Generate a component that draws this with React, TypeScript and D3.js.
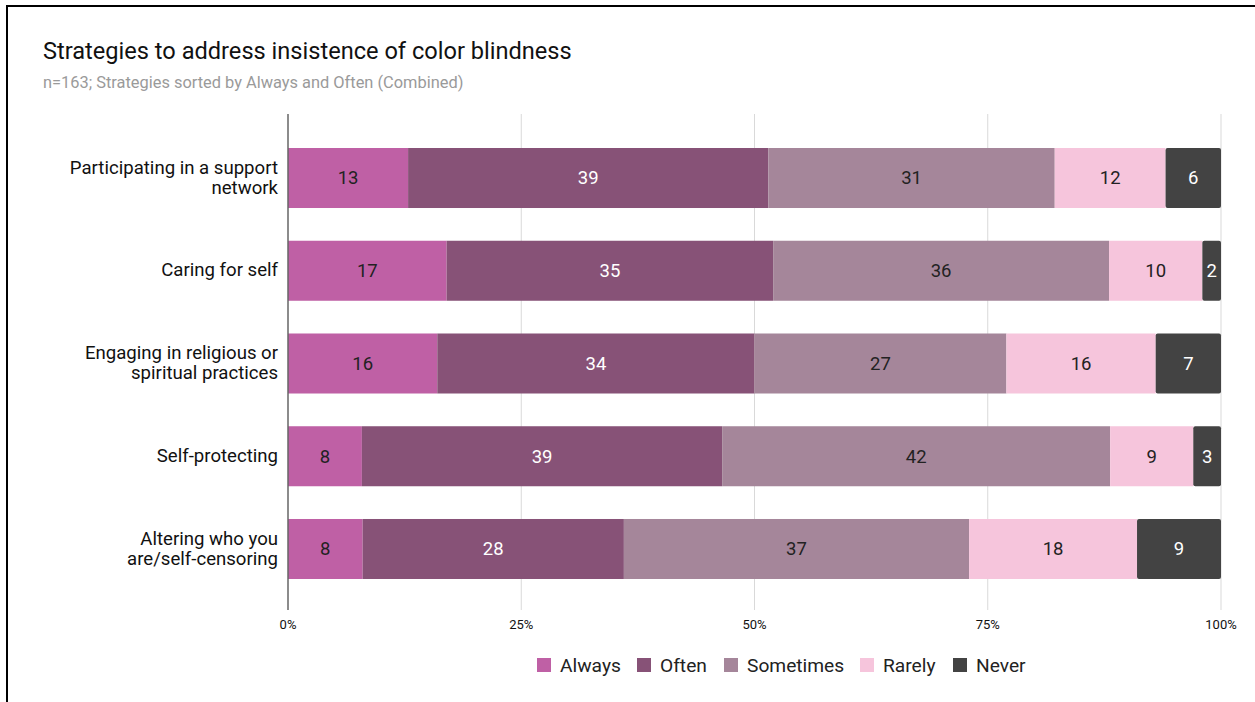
import React from "react";
import * as d3 from "d3";

const categories = [
  ["Participating in a support", "network"],
  ["Caring for self"],
  ["Engaging in religious or", "spiritual practices"],
  ["Self-protecting"],
  ["Altering who you", "are/self-censoring"],
];
const seriesNames = ["Always", "Often", "Sometimes", "Rarely", "Never"];
const always = [13, 17, 16, 8, 8];
const often = [39, 35, 34, 39, 28];
const sometimes = [31, 36, 27, 42, 37];
const rarely = [12, 10, 16, 9, 18];
const never = [6, 2, 7, 3, 9];
const tickValues = [0, 0.25, 0.5, 0.75, 1];
const tickLabels = ["0%", "25%", "50%", "75%", "100%"];

const colors = ["#bf60a5", "#875277", "#a5869a", "#f6c5dc", "#434343"];
const labelColors = ["#222", "#fff", "#222", "#222", "#fff"];

export default function App() {
  const W = 1255, H = 702;
  const x = d3.scaleLinear().domain([0, 1]).range([288, 1221]);
  const y = d3.scaleBand<number>().domain(d3.range(categories.length)).range([148, 579]).paddingInner(0.353).paddingOuter(0);
  const seriesData = [always, often, sometimes, rarely, never];
  const rows = categories.map((_, i) => {
    const obj: any = { i };
    seriesNames.forEach((s, k) => (obj[s] = seriesData[k][i]));
    return obj;
  });
  const stack = d3.stack<any>().keys(seriesNames).offset(d3.stackOffsetExpand);
  const stacked = stack(rows);
  const font = "Roboto, sans-serif";
  const legendX = [537, 637, 724, 860, 953];

  return (
    <svg width={W} height={H} style={{ position: "absolute", left: 0, top: 0, background: "#fff" }} fontFamily={font}>
      <rect x={0} y={0} width={W} height={H} fill="#fff" />
      <line x1={7} y1={5} x2={7} y2={H} stroke="#000" strokeWidth={2} />
      <line x1={6} y1={6} x2={W} y2={6} stroke="#000" strokeWidth={2} />
      <text x={43} y={59} fontSize={23.6} fill="#111">Strategies to address insistence of color blindness</text>
      <text x={43} y={88} fontSize={16.4} fill="#9a9a9a">n=163; Strategies sorted by Always and Often (Combined)</text>
      {tickValues.slice(1).map((t) => (
        <line key={t} x1={x(t)} x2={x(t)} y1={114} y2={610} stroke="#d9d9d9" strokeWidth={1} />
      ))}
      {stacked.map((s, k) => (
        <g key={s.key}>
          {s.map((d, i) => (
            <g key={i}>
              <rect x={x(d[0])} y={y(i)!} width={x(d[1]) - x(d[0])} height={y.bandwidth()} fill={colors[k]} rx={k === 4 ? 2 : 0} />
              <text x={(x(d[0]) + x(d[1])) / 2} y={y(i)! + y.bandwidth() / 2} dy="0.35em" textAnchor="middle" fontSize={18.5} fill={labelColors[k]}>
                {seriesData[k][i]}
              </text>
            </g>
          ))}
        </g>
      ))}
      <line x1={288} x2={288} y1={114} y2={610} stroke="#666" strokeWidth={1.5} />
      {categories.map((lines, i) => {
        const cy = y(i)! + y.bandwidth() / 2 - 1;
        const lh = 20;
        const start = cy - ((lines.length - 1) * lh) / 2;
        return (
          <text key={i} x={278} textAnchor="end" fontSize={18.6} fill="#111">
            {lines.map((l, j) => (
              <tspan key={j} x={278} y={start + j * lh} dy="0.35em">{l}</tspan>
            ))}
          </text>
        );
      })}
      {tickValues.map((t, i) => (
        <text key={t} x={x(t)} y={629} textAnchor="middle" fontSize={13} fill="#111">{tickLabels[i]}</text>
      ))}
      {seriesNames.map((s, k) => (
        <g key={s}>
          <rect x={legendX[k]} y={658} width={14} height={14} fill={colors[k]} />
          <text x={legendX[k] + 23} y={672} fontSize={19.2} fill="#222">{s}</text>
        </g>
      ))}
    </svg>
  );
}
